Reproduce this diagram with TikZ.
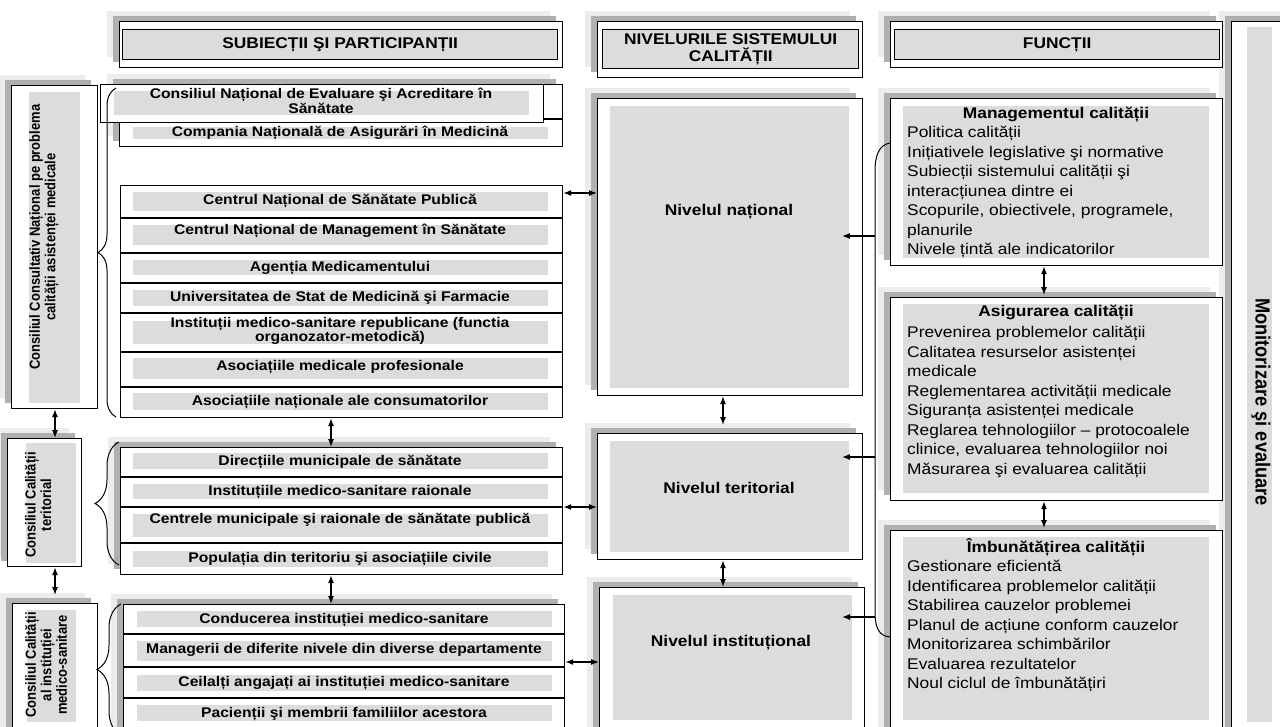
\documentclass[tikz,border=0pt]{standalone}
\usepackage{fontspec}
\setmainfont{Liberation Sans}[FakeStretch=1.12]
\newfontfamily\rotfont{Liberation Sans}[FakeStretch=0.89]
\usetikzlibrary{arrows.meta, shadows, decorations.pathreplacing}

\definecolor{panelgray}{RGB}{220,220,220}
\definecolor{shadedark}{RGB}{176,176,176}
\definecolor{shadelight}{RGB}{236,236,236}

\tikzset{
    box/.style={draw=black, line width=1.2pt, fill=white, anchor=north west, inner sep=0pt},
    shbox/.style={box,
        general shadow={draw=none, fill=shadelight, shadow xshift=-13pt, shadow yshift=11pt},
        general shadow={draw=none, fill=shadedark, shadow xshift=-7pt, shadow yshift=6pt}},
    panel/.style={fill=panelgray, anchor=north west, inner sep=0pt},
    hdr/.style={panel, draw=black, line width=1.4pt, align=center, font=\fontsize{15.5}{17}\selectfont\bfseries},
    item/.style={align=center, inner sep=0pt, font=\fontsize{14}{11}\selectfont\bfseries},
    lvltxt/.style={inner sep=0pt, font=\fontsize{15.5}{17}\selectfont\bfseries},
    fntitle/.style={inner sep=0pt, font=\fontsize{15.5}{17}\selectfont\bfseries},
    fnlist/.style={anchor=north west, inner sep=0pt, align=left, font=\fontsize{15.5}{19.5}\selectfont},
    sidetxt/.style={rotate=90, align=center, inner sep=0pt, font=\rotfont\fontsize{14.6}{15.5}\selectfont\bfseries},
    rowline/.style={line width=1.2pt},
    brc/.style={decorate, line width=1pt},
    dbl/.style={{Latex[length=8pt,width=6pt]}-{Latex[length=8pt,width=6pt]}, line width=1.2pt},
    arr/.style={-{Latex[length=8pt,width=6pt]}, line width=1.2pt},
}

\begin{document}
\begin{tikzpicture}[x=1pt, y=-1pt]
    \path[use as bounding box] (0,0) rectangle (1280,726);
    \clip (0,0) rectangle (1280,726);

    % monitoring column (behind the rest)
    \node[shbox, minimum width=80pt, minimum height=740pt] (mon) at (1231,21) {};
    \node[panel, minimum width=25pt, minimum height=695pt] (monin) at (1247,27) {};
    \node[rotate=-90, inner sep=0pt, font=\rotfont\fontsize{20.5}{22}\selectfont\bfseries] (montxt) at (1261,402) {Monitorizare şi evaluare};

    % headers
    \node[shbox, minimum width=443pt, minimum height=46pt] (hsubj) at (119,21) {};
    \node[hdr, minimum width=435pt, minimum height=30pt] (hsubjin) at (122,29) {SUBIECȚII ŞI PARTICIPANȚII};
    \node[shbox, minimum width=265pt, minimum height=56pt] (hlev) at (597,21) {};
    \node[hdr, minimum width=256pt, minimum height=39pt] (hlevin) at (602,29) {NIVELURILE SISTEMULUI\\CALITĂȚII};
    \node[shbox, minimum width=332pt, minimum height=46pt] (hfunc) at (890,21) {};
    \node[hdr, minimum width=325pt, minimum height=30pt] (hfuncin) at (894,29) {FUNCȚII};

    % councils
    \node[shbox, minimum width=86pt, minimum height=323pt] (cnat) at (11,85) {};
    \node[panel, minimum width=51pt, minimum height=311pt] (cnatin) at (29,92) {};
    \node[sidetxt] (cnattxt) at (44,237) {Consiliul Consultativ Național pe problema\\calității asistenței medicale};
    \node[shbox, minimum width=74pt, minimum height=128pt] (cter) at (7,438) {};
    \node[panel, minimum width=50pt, minimum height=120pt] (cterin) at (26,443) {};
    \node[sidetxt] (ctertxt) at (38,505) {Consiliul Calității\\teritorial};
    \node[shbox, minimum width=85pt, minimum height=140pt] (cinst) at (12,603) {};
    \node[panel, minimum width=49pt, minimum height=112pt] (cinstin) at (27,610) {};
    \node[sidetxt] (cinsttxt) at (46,665) {Consiliul Calității\\al instituției\\medico-sanitare};

    % participants, national (upper part)
    \node[shbox, minimum width=443pt, minimum height=62pt] (gtop) at (119,84) {};
    \node[box, minimum width=443pt, minimum height=38pt] (gtop1) at (100,84) {};
    \node[panel, minimum width=415pt, minimum height=24pt] (gtop1in) at (114,91) {};
    \fill[panelgray] (133,127) rectangle (548,139);
    \coordinate (ysplit) at (0,119);
    \draw[rowline] (gtop1.east |- ysplit) -- (gtop.east |- ysplit);
    \node[item] (top1) at (321,101) {Consiliul Național de Evaluare şi Acreditare în\\Sănătate};
    \node[item] (top2) at (340,133) {Compania Națională de Asigurări în Medicină};

    % participants, national
    \node[box, minimum width=442pt, minimum height=232pt] (gnat) at (120,185) {};
    \foreach \yy in {218,253,283,313,352,387}
        \draw[rowline] (120,\yy) -- (562,\yy);
    \foreach \ya/\yb in {192/211, 225/245, 260/275, 290/306, 321/344, 358/379, 393/410}
        \fill[panelgray] (133,\ya) rectangle (548,\yb);
    \node[item] (nat1) at (340,201) {Centrul Național de Sănătate Publică};
    \node[item] (nat2) at (340,231) {Centrul Național de Management în Sănătate};
    \node[item] (nat3) at (340,268) {Agenția Medicamentului};
    \node[item] (nat4) at (340,298) {Universitatea de Stat de Medicină şi Farmacie};
    \node[item] (nat5) at (340,331) {Instituții medico-sanitare republicane (functia\\organozator-metodică)};
    \node[item] (nat6) at (340,367) {Asociațiile medicale profesionale};
    \node[item] (nat7) at (340,402) {Asociațiile naționale ale consumatorilor};

    % participants, territorial
    \node[shbox, minimum width=442pt, minimum height=127pt] (gter) at (120,447) {};
    \foreach \yy in {477,507,543}
        \draw[rowline] (120,\yy) -- (562,\yy);
    \foreach \ya/\yb in {453/469, 484/499, 514/537, 551/567}
        \fill[panelgray] (133,\ya) rectangle (548,\yb);
    \node[item] (ter1) at (340,462) {Direcțiile municipale de sănătate};
    \node[item] (ter2) at (340,492) {Instituțiile medico-sanitare raionale};
    \node[item] (ter3) at (340,520) {Centrele municipale şi raionale de sănătate publică};
    \node[item] (ter4) at (340,559) {Populația din teritoriu şi asociațiile civile};

    % participants, institutional
    \node[shbox, minimum width=441pt, minimum height=140pt] (ginst) at (123,604) {};
    \foreach \yy in {634,667,698}
        \draw[rowline] (123,\yy) -- (564,\yy);
    \foreach \ya/\yb in {611/627, 641/661, 675/691, 705/721}
        \fill[panelgray] (137,\ya) rectangle (552,\yb);
    \node[item] (ins1) at (344,620) {Conducerea instituției medico-sanitare};
    \node[item] (ins2) at (344,650) {Managerii de diferite nivele din diverse departamente};
    \node[item] (ins3) at (344,683) {Ceilalți angajați ai instituției medico-sanitare};
    \node[item] (ins4) at (344,714) {Pacienții şi membrii familiilor acestora};

    % levels
    \node[shbox, minimum width=265pt, minimum height=297pt] (lnat) at (597,98) {};
    \node[panel, minimum width=239pt, minimum height=282pt] (lnatin) at (610,106) {};
    \node[lvltxt] (lnattxt) at (729,212) {Nivelul național};
    \node[shbox, minimum width=265pt, minimum height=126pt] (lter) at (597,433) {};
    \node[panel, minimum width=239pt, minimum height=111pt] (lterin) at (610,441) {};
    \node[lvltxt] (ltertxt) at (729,488) {Nivelul teritorial};
    \node[shbox, minimum width=265pt, minimum height=150pt] (linst) at (599,587) {};
    \node[panel, minimum width=239pt, minimum height=125pt] (linstin) at (613,595) {};
    \node[lvltxt] (linsttxt) at (731,643) {Nivelul instituțional};

    % functions
    \node[shbox, minimum width=332pt, minimum height=167pt] (fman) at (890,98) {};
    \node[panel, minimum width=306pt, minimum height=152pt] (fmanin) at (903,106) {};
    \node[fntitle] (fmantit) at (1056,115) {Managementul calității};
    \node[fnlist] (fmanlst) at (907,126) {Politica calității\\Inițiativele legislative şi normative\\Subiecții sistemului calității şi\\interacțiunea dintre ei\\Scopurile, obiectivele, programele,\\planurile\\Nivele țintă ale indicatorilor};
    \node[shbox, minimum width=332pt, minimum height=203pt] (fasig) at (890,297) {};
    \node[panel, minimum width=306pt, minimum height=189pt] (fasigin) at (903,304) {};
    \node[fntitle] (fasigtit) at (1056,313) {Asigurarea calității};
    \node[fnlist] (fasiglst) at (907,326) {Prevenirea problemelor calității\\Calitatea resurselor asistenței\\medicale\\Reglementarea activității medicale\\Siguranța asistenței medicale\\Reglarea tehnologiilor – protocoalele\\clinice, evaluarea tehnologiilor noi\\Măsurarea şi evaluarea calității};
    \node[shbox, minimum width=332pt, minimum height=210pt] (fimb) at (890,530) {};
    \node[panel, minimum width=306pt, minimum height=183pt] (fimbin) at (903,537) {};
    \node[fntitle] (fimbtit) at (1056,547) {Îmbunătățirea calității};
    \node[fnlist] (fimblst) at (907,560) {Gestionare eficientă\\Identificarea problemelor calității\\Stabilirea cauzelor problemei\\Planul de acțiune conform cauzelor\\Monitorizarea schimbărilor\\Evaluarea rezultatelor\\Noul ciclul de îmbunătățiri};

    % braces
    \draw[brc, decoration={brace, amplitude=18pt}] (116,417) -- (116,88);
    \draw[brc, decoration={brace, amplitude=24pt}] (119,565) -- (119,442);
    \draw[brc, decoration={brace, amplitude=24pt}] (121,735) -- (121,604);
    \draw[line width=1pt] (890,143) .. controls (879,145) and (875,155) .. (875,172)
        -- (875,612) .. controls (875,628) and (879,636) .. (890,637);

    % connectors
    \coordinate (colA) at (55,0);
    \coordinate (colB) at (331,0);
    \coordinate (colC) at (723,0);
    \coordinate (colD) at (1044,0);
    \draw[dbl] (cnat.south -| colA) -- (cter.north -| colA);
    \draw[dbl, shorten >=8pt] (cter.south -| colA) -- (cinst.north -| colA);
    \draw[dbl] (gnat.south -| colB) -- (gter.north -| colB);
    \draw[dbl] (gter.south -| colB) -- (ginst.north -| colB);
    \draw[dbl, shorten >=8pt] (lnat.south -| colC) -- (lter.north -| colC);
    \draw[dbl] (lter.south -| colC) -- (linst.north -| colC);
    \draw[dbl, shorten >=2pt] (fman.south -| colD) -- (fasig.north -| colD);
    \draw[dbl, shorten >=2pt] (fasig.south -| colD) -- (fimb.north -| colD);

    \coordinate (ynat) at (0,193);
    \coordinate (yter) at (0,507);
    \coordinate (yins) at (0,662);
    \draw[dbl] (gnat.east |- ynat) -- (lnat.west |- ynat);
    \draw[dbl] (gter.east |- yter) -- (lter.west |- yter);
    \draw[dbl] (ginst.east |- yins) -- (linst.west |- yins);

    \coordinate (b1) at (875,236);
    \coordinate (b2) at (875,457);
    \coordinate (b3) at (875,617);
    \coordinate (t1) at (842,236);
    \coordinate (t2) at (842,457);
    \coordinate (t3) at (842,617);
    \draw[arr] (b1) -- (t1);
    \draw[arr] (b2) -- (t2);
    \draw[arr] (b3) -- (t3);
\end{tikzpicture}
\end{document}
